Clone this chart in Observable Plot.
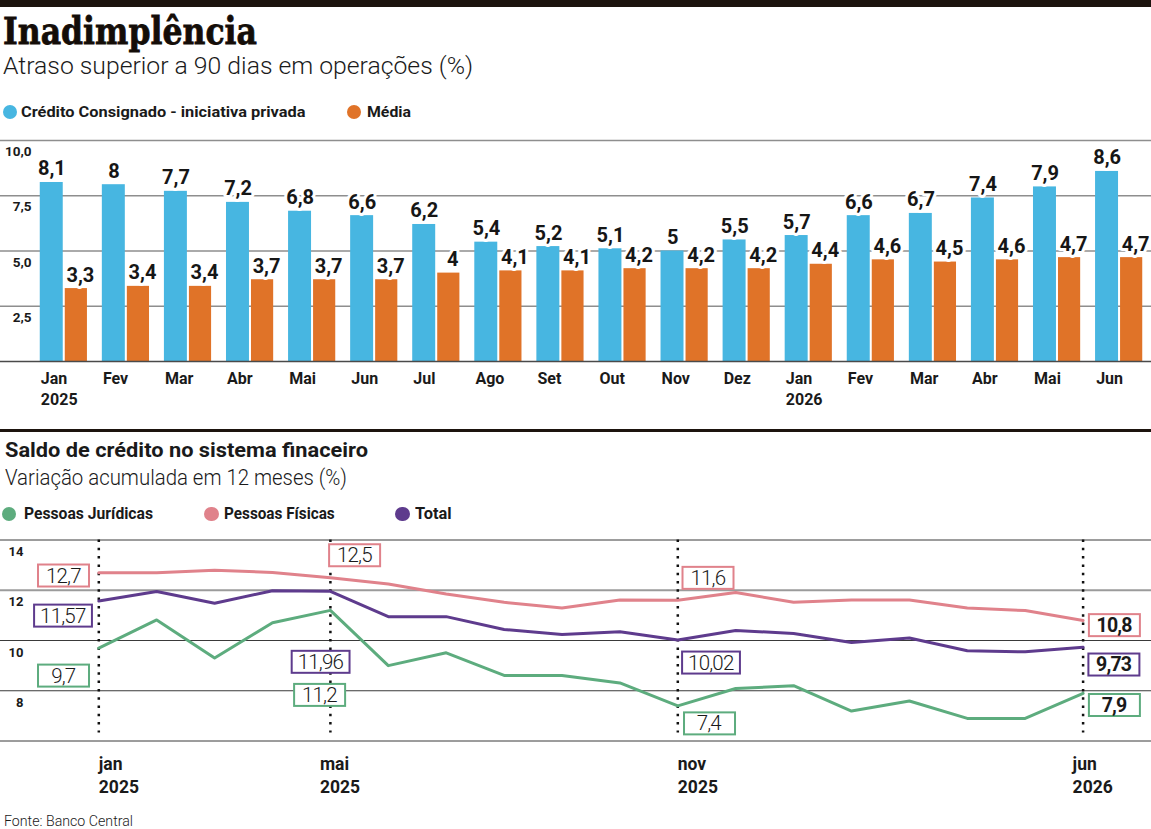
<!DOCTYPE html>
<html lang="pt-BR">
<head>
<meta charset="utf-8">
<title>Inadimplência</title>
<script src="https://cdn.jsdelivr.net/npm/d3@7"></script>
<script src="https://cdn.jsdelivr.net/npm/@observablehq/plot@0.6"></script>
<style>
  html, body { margin: 0; padding: 0; background: #fff; }
  #page { position: relative; width: 1151px; height: 829px; overflow: hidden;
          font-family: Roboto, "Noto Sans", sans-serif; color: #1a1a1a; background: #fff; }
  .txt { position: absolute; white-space: nowrap; line-height: 1; transform-origin: 0 0; }
  .band { position: absolute; left: 0; width: 1151px; background: #1d140e; }
  .dot { position: absolute; border-radius: 50%; }
  .chart { position: absolute; left: 0; }
</style>
</head>
<body>
<div id="page"></div>
<script>
// ---- Inadimplência: atraso superior a 90 dias (%) ----
const months = [
  "2025-01", "2025-02", "2025-03", "2025-04", "2025-05", "2025-06",
  "2025-07", "2025-08", "2025-09", "2025-10", "2025-11", "2025-12",
  "2026-01", "2026-02", "2026-03", "2026-04", "2026-05", "2026-06"
];
const monthNames = ["Jan", "Fev", "Mar", "Abr", "Mai", "Jun", "Jul", "Ago", "Set", "Out", "Nov", "Dez"];
const consignado = [8.1, 8, 7.7, 7.2, 6.8, 6.6, 6.2, 5.4, 5.2, 5.1, 5, 5.5, 5.7, 6.6, 6.7, 7.4, 7.9, 8.6];
const media = [3.3, 3.4, 3.4, 3.7, 3.7, 3.7, 4, 4.1, 4.1, 4.2, 4.2, 4.2, 4.4, 4.6, 4.5, 4.6, 4.7, 4.7];
const barTicks = [2.5, 5, 7.5, 10];

// ---- Saldo de crédito: variação acumulada em 12 meses (%) ----
const juridicas = [9.7, 10.82, 9.3, 10.71, 11.2, 9.0, 9.51, 8.61, 8.61, 8.31, 7.4, 8.09, 8.2, 7.19, 7.59, 6.9, 6.9, 7.9];
const fisicas = [12.7, 12.7, 12.8, 12.71, 12.5, 12.25, 11.85, 11.52, 11.29, 11.61, 11.6, 11.91, 11.52, 11.61, 11.61, 11.29, 11.19, 10.8];
const total = [11.57, 11.95, 11.48, 11.98, 11.96, 10.95, 10.95, 10.44, 10.24, 10.35, 10.02, 10.4, 10.28, 9.92, 10.1, 9.59, 9.55, 9.73];
const lineTicks = [8, 10, 12, 14];
const markedMonths = ["2025-01", "2025-05", "2025-11", "2026-06"];

const BLUE = "#47b6e1", ORANGE = "#e07328";
const GREEN = "#5dac7e", PINK = "#e0828b", PURPLE = "#5e3b8d";
const INK = "#1a1a1a";

const monthName = k => monthNames[+k.slice(5) - 1];
const year = k => k.slice(0, 4);
const comma = v => String(v).replace(".", ",");
const ptBR = d3.formatLocale({decimal: ",", thousands: ".", grouping: [3], currency: ["R$", ""]});

const page = document.getElementById("page");

// Text placed by its baseline, optionally squeezed to a given width
function addText(str, {x, baseline, size, weight = 400, family = "Roboto, sans-serif", width, color = INK, outline = 0}) {
  const el = document.createElement("div");
  el.className = "txt";
  el.textContent = str;
  Object.assign(el.style, {
    left: x + "px", top: (baseline - 0.845 * size) + "px",
    fontSize: size + "px", fontWeight: weight, fontFamily: family, color
  });
  if (outline) el.style.webkitTextStroke = `${outline}px ${color}`;
  page.appendChild(el);
  if (width) {
    const w = el.getBoundingClientRect().width;
    el.style.transform = `scaleX(${width / w})`;
  }
  return el;
}
function addDot(cx, cy, r, color) {
  const el = document.createElement("div");
  el.className = "dot";
  Object.assign(el.style, {left: (cx - r) + "px", top: (cy - r) + "px", width: 2 * r + "px", height: 2 * r + "px", background: color});
  page.appendChild(el);
}
function addBand(top, h) {
  const el = document.createElement("div");
  el.className = "band";
  Object.assign(el.style, {top: top + "px", height: h + "px"});
  page.appendChild(el);
}
function mount(svg, top) {
  const wrap = document.createElement("div");
  wrap.className = "chart";
  wrap.style.top = top + "px";
  wrap.appendChild(svg);
  page.appendChild(wrap);
}

// ---- header ----
addBand(0, 7);
addText("Inadimplência", {x: 3, baseline: 44.7, size: 37.7, weight: 700, family: "'DejaVu Serif', serif", width: 254, color: "#140d08", outline: 0.8});
addText("Atraso superior a 90 dias em operações (%)", {x: 3, baseline: 74, size: 24, weight: 300, width: 470});
addDot(9.7, 112, 7, BLUE);
addText("Crédito Consignado - iniciativa privada", {x: 20.5, baseline: 117.3, size: 15, weight: 700, width: 284.5});
addDot(354, 112, 7.2, ORANGE);
addText("Média", {x: 366.7, baseline: 117.3, size: 15, weight: 700, width: 44});

// ---- bar chart ----
const barRows = months.map((m, i) => ({month: m, consignado: consignado[i], media: media[i]}));

const barChart = Plot.plot({
  width: 1151, height: 290,
  marginTop: 15, marginBottom: 54, marginLeft: 0, marginRight: 0,
  x: {type: "band", domain: months, range: [32, 1150], paddingInner: 0.24, paddingOuter: 0.125, round: false, label: null},
  y: {domain: [0, 10], label: null},
  style: {background: "transparent", fontFamily: "Roboto, sans-serif", color: INK},
  marks: [
    Plot.ruleY(barTicks, {stroke: "#8e8e8e", strokeWidth: 1.5}),
    Plot.barY(barRows, {x: "month", y: "consignado", fill: BLUE, insetRight: 24.2}),
    Plot.barY(barRows, {x: "month", y: "media", fill: ORANGE, insetLeft: 25}),
    Plot.ruleY([0], {stroke: "#4a4a4a", strokeWidth: 1.5}),
    Plot.text(barRows, {
      x: "month", y: "consignado", text: d => comma(d.consignado),
      dx: -12, dy: -7, lineAnchor: "bottom", fontSize: 20, fontWeight: 700,
      fill: "#161616", stroke: "white", strokeWidth: 6, paintOrder: "stroke"
    }),
    Plot.text(barRows, {
      x: "month", y: "media", text: d => comma(d.media),
      dx: 16.5, dy: -7, lineAnchor: "bottom", fontSize: 20, fontWeight: 700,
      fill: "#161616", stroke: "white", strokeWidth: 6, paintOrder: "stroke"
    }),
    Plot.axisY({
      ticks: barTicks, tickSize: 0, tickPadding: 0, dx: 31, dy: 11.4, textAnchor: "end",
      tickFormat: ptBR.format(".1f"), fontSize: 13.5, fontWeight: 700, fill: INK, label: null
    }),
    Plot.axisX({
      tickSize: 0, tickPadding: 7.5, textAnchor: "start", dx: -23,
      tickFormat: k => k.endsWith("-01") ? `${monthName(k)}\n${year(k)}` : monthName(k),
      fontSize: 16, fontWeight: 700, lineHeight: 1.3, fill: INK, label: null
    })
  ]
});
mount(barChart, 125);

// ---- second section header ----
addBand(428.5, 3.5);
addText("Saldo de crédito no sistema finaceiro", {x: 5, baseline: 457.3, size: 19.7, weight: 700, width: 363});
addText("Variação acumulada em 12 meses (%)", {x: 5, baseline: 485.7, size: 22, weight: 300, width: 342});
addDot(9.2, 513.7, 7.2, GREEN);
addText("Pessoas Jurídicas", {x: 24, baseline: 519.3, size: 16, weight: 700, width: 129});
addDot(211.5, 513.7, 7.2, PINK);
addText("Pessoas Físicas", {x: 224.3, baseline: 519.3, size: 16, weight: 700, width: 110.7});
addDot(402.5, 513.7, 7.2, PURPLE);
addText("Total", {x: 415, baseline: 519.3, size: 16, weight: 700, width: 36.7});

// ---- line chart ----
const series = {
  pj: {values: juridicas, color: GREEN},
  pf: {values: fisicas, color: PINK},
  total: {values: total, color: PURPLE}
};
const lineRows = months.map((m, i) => ({month: m, pj: juridicas[i], pf: fisicas[i], total: total[i]}));

// Boxed value callouts at the marked months (offsets in pixels from the point)
const callouts = [
  {month: "2025-01", key: "pf", dx: -35.5, dy: 3.3},
  {month: "2025-01", key: "total", dx: -36, dy: 15},
  {month: "2025-01", key: "pj", dx: -35.5, dy: 28},
  {month: "2025-05", key: "pf", dx: 24, dy: -22},
  {month: "2025-05", key: "total", dx: -10, dy: 71},
  {month: "2025-05", key: "pj", dx: -11, dy: 85},
  {month: "2025-11", key: "pf", dx: 30, dy: -22},
  {month: "2025-11", key: "total", dx: 33, dy: 23},
  {month: "2025-11", key: "pj", dx: 31, dy: 18},
  {month: "2026-06", key: "pf", dx: 31, dy: 5, bold: true},
  {month: "2026-06", key: "total", dx: 30.5, dy: 17.5, bold: true},
  {month: "2026-06", key: "pj", dx: 31, dy: 12, bold: true}
];

const calloutMarks = callouts.map(c => {
  const i = months.indexOf(c.month);
  const v = series[c.key].values[i];
  return Plot.text([{month: c.month, value: v}], {
    x: "month", y: "value", text: d => comma(d.value),
    dx: c.dx, dy: c.dy, lineAnchor: "middle", textAnchor: "middle",
    fontSize: c.bold ? 19.5 : 20.5, fontWeight: c.bold ? 700 : 300,
    fill: INK, className: `callout callout-${c.key}`
  });
});

const monthTick = k => `${monthName(k).toLowerCase()}\n${year(k)}`;

const lineChart = Plot.plot({
  width: 1151, height: 275,
  marginTop: 9.5, marginBottom: 64.5, marginLeft: 0, marginRight: 0,
  x: {type: "point", domain: months, range: [98.3, 1082.6], padding: 0, round: false, label: null},
  y: {domain: [6, 14], label: null},
  style: {background: "transparent", fontFamily: "Roboto, sans-serif", color: INK},
  marks: [
    Plot.ruleY([6, 8, 10, 14], {stroke: "#3a3a3a", strokeWidth: 1}),
    Plot.ruleY([12], {stroke: "#9b9b9b", strokeWidth: 2}),
    Plot.ruleX(markedMonths, {stroke: "#111", strokeWidth: 2.5, strokeDasharray: "2.5,5.8", insetBottom: 8}),
    Plot.line(lineRows, {x: "month", y: "pf", stroke: PINK, strokeWidth: 3}),
    Plot.line(lineRows, {x: "month", y: "total", stroke: PURPLE, strokeWidth: 3}),
    Plot.line(lineRows, {x: "month", y: "pj", stroke: GREEN, strokeWidth: 3}),
    ...calloutMarks,
    Plot.axisY({
      ticks: lineTicks, tickSize: 0, tickPadding: 0, dx: 23, dy: 12, textAnchor: "end",
      fontSize: 13, fontWeight: 700, fill: INK, label: null
    }),
    Plot.axisX({
      ticks: ["2025-01", "2025-11"], tickSize: 0, tickPadding: 11.5, textAnchor: "start", dx: 0,
      tickFormat: monthTick, fontSize: 17.5, fontWeight: 700, lineHeight: 1.37, fill: INK, label: null
    }),
    Plot.axisX({
      ticks: ["2025-05", "2026-06"], tickSize: 0, tickPadding: 11.5, textAnchor: "start", dx: -10.5,
      tickFormat: monthTick, fontSize: 17.5, fontWeight: 700, lineHeight: 1.37, fill: INK, label: null
    })
  ]
});
mount(lineChart, 530);

// White boxes with coloured borders behind each callout value
d3.select(lineChart).selectAll("g.callout").each(function() {
  const key = [...this.classList].find(c => c.startsWith("callout-")).slice(8);
  d3.select(this).selectAll("text").each(function() {
    d3.select(this).style("letter-spacing", "-0.8px");
    const b = this.getBBox();
    const cx = b.x + b.width / 2, cy = b.y + b.height / 2;
    const w = Math.max(b.width + 12, 51);
    d3.select(this.parentNode).insert("rect", () => this)
      .attr("transform", this.getAttribute("transform"))
      .attr("x", cx - w / 2).attr("y", cy - 11)
      .attr("width", w).attr("height", 22)
      .attr("fill", "white").attr("stroke", series[key].color).attr("stroke-width", 2);
  });
});

// ---- source ----
addText("Fonte: Banco Central", {x: 4, baseline: 826, size: 14, weight: 300, width: 129});
</script>
</body>
</html>
